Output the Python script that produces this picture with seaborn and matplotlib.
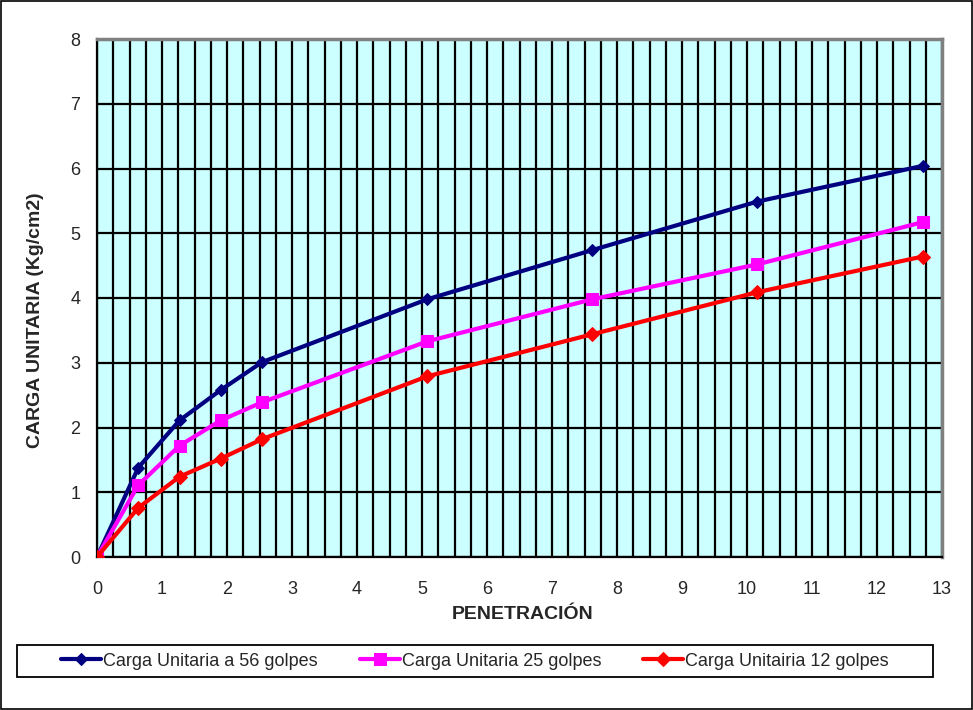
import matplotlib
matplotlib.use("Agg")
import matplotlib.pyplot as plt
import seaborn as sns
import pandas as pd
import numpy as np
from matplotlib.patches import Rectangle

penetracion = [0, 0.635, 1.27, 1.905, 2.54, 5.08, 7.62, 10.16, 12.7]
carga_56 = [0, 1.38, 2.11, 2.58, 3.01, 3.98, 4.74, 5.49, 6.04]
carga_25 = [0, 1.11, 1.72, 2.11, 2.39, 3.33, 3.98, 4.52, 5.17]
carga_12 = [0, 0.76, 1.24, 1.52, 1.82, 2.79, 3.44, 4.09, 4.64]
series_names = ["Carga Unitaria a 56 golpes", "Carga Unitaria 25 golpes", "Carga Unitairia 12 golpes"]
colors = ["#000080", "#FF00FF", "#FF0000"]
markers = ["D", "s", "D"]
marker_sizes = [6, 8, 7]

sns.set_style("white")
plt.rcParams['font.family'] = ['Liberation Sans', 'DejaVu Sans']

W, H = 973, 710
fig = plt.figure(figsize=(W/100, H/100), dpi=100)
ax = fig.add_axes([97/W, 1-557/H, (942-97)/W, (557-39)/H])
ax.set_facecolor("#CCFFFF")

df = pd.DataFrame({
    "x": penetracion * 3,
    "y": carga_56 + carga_25 + carga_12,
    "serie": [series_names[0]]*len(penetracion) + [series_names[1]]*len(penetracion) + [series_names[2]]*len(penetracion),
})

for name, c, m, ms in zip(series_names, colors, markers, marker_sizes):
    sub = df[df["serie"] == name]
    sns.lineplot(data=sub, x="x", y="y", ax=ax, color=c, marker=m, markersize=ms,
                 markeredgecolor=c, linewidth=3.0, label=name, sort=False, zorder=5)

ax.set_xlim(0, 13)
ax.set_ylim(0, 8)
ax.set_xticks(range(0, 14))
ax.set_yticks(range(0, 9))
ax.set_xticks(np.arange(0.25, 13, 0.25), minor=True)
ax.grid(True, which="major", axis="y", color="black", linewidth=1.6, zorder=1)
ax.grid(True, which="major", axis="x", color="black", linewidth=1.6, zorder=1)
ax.grid(True, which="minor", axis="x", color="black", linewidth=1.6, zorder=1)
ax.set_axisbelow(True)
ax.tick_params(axis="both", which="major", direction="out", length=5, width=1.3, color="black",
               labelsize=13)
ax.tick_params(axis="x", which="major", pad=12)
ax.tick_params(axis="y", which="major", pad=7)
ax.tick_params(axis="x", which="minor", length=0)

for s in ["left", "bottom"]:
    ax.spines[s].set_color("black")
    ax.spines[s].set_linewidth(1.6)
for s in ["top", "right"]:
    ax.spines[s].set_color("#808080")
    ax.spines[s].set_linewidth(2.5)

ax.set_xlabel("PENETRACIÓN", fontsize=14, fontweight="bold")
ax.set_ylabel("CARGA UNITARIA (Kg/cm2)", fontsize=14, fontweight="bold")
ax.xaxis.set_label_coords((522.5-97)/845, (557-606)/518)
ax.yaxis.set_label_coords((44-97)/845, (557-320)/518)

ax.get_legend().remove()
handles, labels = ax.get_legend_handles_labels()
leg = fig.legend(handles, labels, loc="center", bbox_to_anchor=(475/W, 1-661/H),
                 ncol=3, frameon=False, fontsize=13,
                 handlelength=2.2, handletextpad=0.1, columnspacing=2.35, borderpad=0.0)

fig.patches.append(Rectangle((17/W, 1-677/H), (933-17)/W, (677-645)/H, transform=fig.transFigure,
                             fill=False, edgecolor="black", linewidth=1.3))
fig.patches.append(Rectangle((0.001, 0.001), 0.998, 0.998, transform=fig.transFigure,
                             fill=False, edgecolor="black", linewidth=1.2))

fig.savefig("out.png", dpi=100)
